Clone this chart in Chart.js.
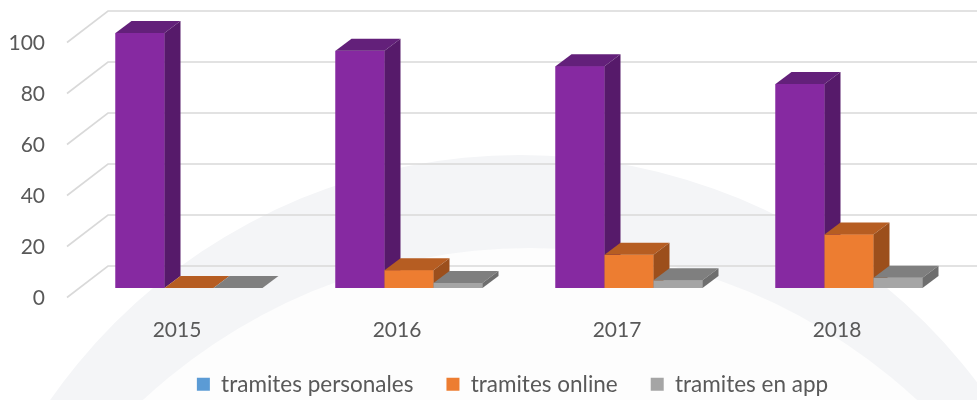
<!DOCTYPE html>
<html>
<head>
<meta charset="utf-8">
<script src="https://cdn.jsdelivr.net/npm/chart.js@4/dist/chart.umd.min.js"></script>
<style>
  html, body { margin: 0; padding: 0; background: #ffffff; }
  #wrap { width: 977px; height: 400px; position: relative; }
</style>
</head>
<body>
<div id="wrap"><canvas id="c" width="977" height="400"></canvas></div>
<script>
// ---- data ----
const categories = ['2015', '2016', '2017', '2018'];
const seriesNames = ['tramites personales', 'tramites online', 'tramites en app'];
const personales = [100, 93, 87, 80];
const online = [0, 7, 13, 21];
const enApp = [0, 2, 3, 4];
const yTicks = [0, 20, 40, 60, 80, 100];

// ---- styles ----
const frontColors = ['#8629A1', '#ED7D31', '#A5A5A5'];
const topColors = ['#63207A', '#B65D22', '#7F7F7F'];
const sideColors = ['#561A6A', '#9C4F1C', '#6E6E6E'];
const legendColors = ['#5B9BD5', '#ED7D31', '#A5A5A5'];
const textColor = '#595959';
const gridColor = '#D9D9D9';
const FONT = 'Lato, "Open Sans", sans-serif';

// 3D projection offsets (pixels)
const BAR_DX = 16, BAR_DY = -12;      // depth of a bar
const WALL_DX = 29, WALL_DY = -22;    // bar plane -> back wall
const FRONT_DX = -12, FRONT_DY = 9.5; // bar plane -> front edge

const bgPlugin = {
  id: 'bg',
  beforeDraw(chart) {
    const ctx = chart.ctx;
    ctx.save();
    ctx.fillStyle = '#FFFFFF';
    ctx.fillRect(0, 0, chart.width, chart.height);
    ctx.beginPath();
    ctx.arc(520, 728, 573, 0, Math.PI * 2);
    ctx.fillStyle = '#F4F5F7';
    ctx.fill();
    ctx.beginPath();
    ctx.arc(530, 817, 569, 0, Math.PI * 2);
    ctx.fillStyle = '#FDFDFD';
    ctx.fill();
    ctx.restore();
  }
};

const gridPlugin = {
  id: 'grid3d',
  beforeDatasetsDraw(chart) {
    const ctx = chart.ctx;
    const ys = chart.scales.y;
    const L = chart.chartArea.left;
    ctx.save();
    ctx.strokeStyle = gridColor;
    ctx.lineWidth = 1.6;
    ys.ticks.forEach(t => {
      const py = ys.getPixelForValue(t.value);
      ctx.beginPath();
      ctx.moveTo(L + FRONT_DX, py + FRONT_DY);
      ctx.lineTo(L + WALL_DX, py + WALL_DY);
      ctx.lineTo(chart.width, py + WALL_DY);
      ctx.stroke();
    });
    ctx.restore();
  }
};

const barsPlugin = {
  id: 'bars3d',
  afterDatasetsDraw(chart) {
    const ctx = chart.ctx;
    ctx.save();
    chart.data.datasets.forEach((ds, d) => {
      const meta = chart.getDatasetMeta(d);
      meta.data.forEach(bar => {
        const p = bar.getProps(['x', 'y', 'base', 'width'], true);
        const l = p.x - p.width / 2, r = p.x + p.width / 2;
        const top = Math.min(p.y, p.base), bot = Math.max(p.y, p.base);
        // front
        ctx.fillStyle = frontColors[d];
        ctx.fillRect(l, top, r - l, bot - top);
        // top face
        ctx.beginPath();
        ctx.moveTo(l, top);
        ctx.lineTo(l + BAR_DX, top + BAR_DY);
        ctx.lineTo(r + BAR_DX, top + BAR_DY);
        ctx.lineTo(r, top);
        ctx.closePath();
        ctx.fillStyle = topColors[d];
        ctx.fill();
        // side face
        ctx.beginPath();
        ctx.moveTo(r, top);
        ctx.lineTo(r + BAR_DX, top + BAR_DY);
        ctx.lineTo(r + BAR_DX, bot + BAR_DY);
        ctx.lineTo(r, bot);
        ctx.closePath();
        ctx.fillStyle = sideColors[d];
        ctx.fill();
      });
    });
    ctx.restore();
  }
};

const legendShift = {
  id: 'legendShift',
  afterLayout(chart) {
    const lg = chart.legend;
    if (lg) { lg.top -= 6; lg.left += 33; lg.right += 33; }
  }
};

const seriesValues = [personales, online, enApp];

new Chart(document.getElementById('c'), {
  type: 'bar',
  data: {
    labels: categories,
    datasets: seriesNames.map((name, i) => ({
      label: name,
      data: seriesValues[i],
      backgroundColor: frontColors[i],
      borderWidth: 0,
      categoryPercentage: 0.668,
      barPercentage: 1.0
    }))
  },
  options: {
    responsive: false,
    animation: false,
    events: [],
    layout: { padding: { left: 0, right: 18, top: 33, bottom: 0 } },
    scales: {
      x: {
        grid: { display: false, drawTicks: false },
        border: { display: false },
        ticks: { color: textColor, font: { family: FONT, size: 21 }, padding: 30, labelOffset: -12 },
        afterFit(s) { s.height = 58; s.paddingLeft = 0; s.paddingRight = 0; }
      },
      y: {
        min: 0, max: 100,
        afterBuildTicks(s) { s.ticks = yTicks.map(v => ({ value: v })); },
        grid: { display: false, drawTicks: false },
        border: { display: false },
        ticks: { color: textColor, font: { family: FONT, size: 21 }, padding: 34, labelOffset: 10 },
        afterFit(s) { s.width = 79; s.paddingTop = 0; s.paddingBottom = 0; }
      }
    },
    plugins: {
      tooltip: { enabled: false },
      legend: {
        position: 'bottom',
        maxHeight: 54,
        labels: {
          color: textColor,
          font: { family: FONT, size: 22.5 },
          boxWidth: 13,
          boxHeight: 13,
          padding: 33,
          generateLabels(chart) {
            return chart.data.datasets.map((ds, i) => ({
              text: ds.label,
              fillStyle: legendColors[i],
              strokeStyle: legendColors[i],
              lineWidth: 0,
              hidden: false,
              datasetIndex: i,
              fontColor: textColor
            }));
          }
        }
      }
    }
  },
  plugins: [bgPlugin, gridPlugin, barsPlugin, legendShift]
});
</script>
</body>
</html>
